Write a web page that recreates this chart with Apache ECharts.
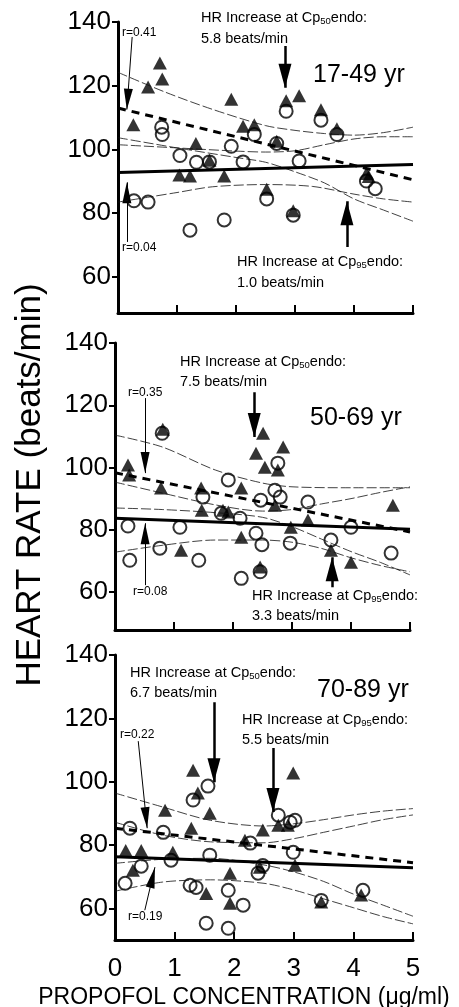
<!DOCTYPE html>
<html>
<head>
<meta charset="utf-8">
<title>Heart rate vs propofol concentration</title>
<script src="https://cdn.jsdelivr.net/npm/echarts@6/dist/echarts.min.js"></script>
<style>
html, body { margin: 0; padding: 0; background: #fff; }
#chart { width: 459px; height: 1007px; }
</style>
</head>
<body>
<div id="chart"></div>
<script>
// ---- values (x = propofol ug/ml, y = heart rate) ----
var xTicks = [0, 1, 2, 3, 4, 5];
var yTicks = [60, 80, 100, 120, 140];
var ageGroups = ['17-49 yr', '50-69 yr', '70-89 yr'];

// 17-49 yr
var triYoung = [[0.26,107.8],[0.51,119.6],[0.71,127.1],[0.75,122.1],[1.04,92.0],[1.22,91.7],[1.32,101.9],[1.55,96.6],[1.80,91.7],[1.92,115.8],[2.12,107.3],[2.31,107.8],[2.52,87.5],[2.69,102.6],[2.85,115.3],[3.07,116.9],[3.44,112.5],[3.71,106.5],[4.21,92.5],[4.25,91.5],[2.97,80.8]];
var circYoung = [[0.27,83.9],[0.51,83.5],[0.74,107.0],[0.75,104.7],[1.05,98.1],[1.22,74.7],[1.33,96.0],[1.55,96.1],[1.80,77.9],[1.92,101.0],[2.12,96.1],[2.31,104.7],[2.52,84.5],[2.69,101.9],[2.85,112.0],[2.97,79.4],[3.07,96.4],[3.44,109.2],[3.71,104.7],[4.21,90.1],[4.36,87.7]];
var fitTriYoung = [[0, 113], [5, 90.5]];
var fitCircYoung = [[0, 92.8], [5, 95.3]];
var bandsYoung = [
  [[0,124.2],[0.8,118],[1.6,112.6],[2.5,107.5],[3,106],[3.5,105],[4,104.5],[4.5,105.3],[5,107]],
  [[0,103.7],[1,100.5],[2,97.5],[2.5,96],[3,93],[3.5,89.5],[4,84.5],[4.5,81],[5,77.5]],
  [[0,101.5],[1,100.5],[2,99.5],[2.5,99.2],[3,99.6],[3.5,101.5],[4,103.3],[4.5,104],[5,104]],
  [[0,83.5],[0.5,85],[1,86.5],[1.6,88.3],[2.5,89],[3.3,88.4],[4,86],[4.5,84.5],[5,83.5]]
];
var bigArrowsYoung = [[2.83,132.5,2.83,119.4],[3.88,69.4,3.88,83.8]];
var thinArrowsYoung = [[0.24,135.3,0.15,112.5],[0.15,71,0.15,89.7]];

// 50-69 yr
var triMid = [[0.22,100.8],[0.24,97.6],[0.81,112.3],[0.78,93.4],[1.12,73.4],[1.46,93.4],[1.47,86.3],[1.83,86.3],[1.92,85.7],[2.14,93.4],[2.14,77.6],[2.39,104.6],[2.51,111.0],[2.54,100.1],[2.46,68.0],[2.71,87.9],[2.76,99.2],[2.85,106.6],[2.98,80.8],[3.27,83.1],[3.66,73.4],[4.00,69.6],[4.71,87.9]];
var circMid = [[0.22,81.2],[0.25,70.2],[0.80,111.0],[0.76,74.1],[1.10,80.8],[1.42,70.2],[1.49,90.5],[1.80,85.3],[1.92,96.0],[2.12,83.7],[2.14,64.4],[2.39,78.9],[2.47,89.5],[2.49,75.2],[2.46,66.5],[2.71,92.7],[2.76,101.4],[2.80,90.5],[2.97,75.7],[3.27,88.9],[3.66,76.7],[4.00,80.8],[4.68,72.5]];
var fitTriMid = [[0, 98.3], [5, 79.3]];
var fitCircMid = [[0, 83.7], [5, 80.2]];
var bandsMid = [
  [[0,110.4],[0.8,106.6],[1.7,99.2],[2.5,95],[3,93.8],[4,93.5],[5,93.5]],
  [[0,87],[0.8,86.5],[1.7,85.5],[2.5,84],[3,81],[3.5,77],[4,73],[4.5,69.5],[5,65.5]],
  [[0,95.3],[0.8,91.8],[1.7,88],[2.5,86],[3,86.5],[3.5,88.3],[4,90],[4.5,92],[5,93.8]],
  [[0,72.8],[0.8,75],[1.7,76.7],[2.5,76.7],[3,76],[3.5,74],[4,71],[4.5,68.5],[5,66.5]]
];
var bigArrowsMid = [[2.36,124.2,2.36,109.8],[3.68,61.5,3.68,71.2]];
var thinArrowsMid = [[0.51,122.3,0.51,98.2],[0.51,62.2,0.51,82.1]];

// 70-89 yr
var triOld = [[0.18,78.3],[0.30,72.0],[0.44,78.3],[0.84,91.0],[0.97,77.7],[1.28,85.3],[1.31,103.6],[1.39,96.4],[1.53,64.7],[1.59,90.0],[1.93,71.1],[1.93,61.6],[2.18,81.5],[2.43,73.0],[2.48,84.7],[2.74,86.2],[2.90,86.2],[2.99,102.7],[3.02,73.6],[3.46,62.0],[4.13,64.2]];
var circOld = [[0.17,67.9],[0.25,85.3],[0.44,73.3],[0.81,84.0],[0.94,75.2],[1.26,67.3],[1.31,94.2],[1.36,66.6],[1.53,55.3],[1.56,98.6],[1.59,76.8],[1.90,65.7],[1.90,53.7],[2.15,61.0],[2.27,80.6],[2.40,71.1],[2.48,73.5],[2.74,89.4],[2.94,87.2],[3.02,87.8],[2.99,77.7],[3.46,62.5],[4.16,65.7]];
var fitTriOld = [[0, 85.3], [5, 74.4]];
var fitCircOld = [[0, 76.3], [5, 72.8]];
var bandsOld = [
  [[0,96.4],[0.8,92],[1.6,87.8],[2.5,86],[3,86.7],[3.5,88],[4,89.5],[4.5,90.7],[5,91.5]],
  [[0,74.2],[0.8,75.5],[1.6,75.8],[2.5,73.7],[3,71.5],[3.5,68.5],[4,64.5],[4.5,61],[5,57.5]],
  [[0,87.2],[0.8,83.1],[1.6,81],[2.5,80.7],[3,82],[3.5,84],[4,86],[4.5,88],[5,89.5]],
  [[0,65.4],[0.8,68.3],[1.6,69],[2.5,67.9],[3,65.8],[3.5,63],[4,60.2],[4.5,57.4],[5,55.1]]
];
var bigArrowsOld = [[1.66,125.1,1.66,99.8],[2.65,110.6,2.65,90.4]];
var thinArrowsOld = [[0.39,112.8,0.54,85.3],[0.50,59.4,0.67,73]];

var FONT = '"Liberation Sans", Arial, Helvetica, sans-serif';

var panels = [
  { tri: triYoung, circ: circYoung, fitTri: fitTriYoung, fitCirc: fitCircYoung, bands: bandsYoung, big: bigArrowsYoung, thin: thinArrowsYoung, yMin: 48.7 },
  { tri: triMid, circ: circMid, fitTri: fitTriMid, fitCirc: fitCircMid, bands: bandsMid, big: bigArrowsMid, thin: thinArrowsMid, yMin: 47.8 },
  { tri: triOld, circ: circOld, fitTri: fitTriOld, fitCirc: fitCircOld, bands: bandsOld, big: bigArrowsOld, thin: thinArrowsOld, yMin: 50 }
];

var grids = [
  { left: 118, top: 22, width: 295, height: 291 },
  { left: 115, top: 343, width: 295, height: 287 },
  { left: 115, top: 655, width: 298, height: 285 }
];

// arrow heads: tip sits at the centre of a square box so it lands on the end point
var bigHead = 'path://M0,0L0,0M48,48L48,48M24,24L30.5,48L17.5,48Z';
var thinHead = 'path://M0,0L0,0M42,42L42,42M21,21L25.5,42L16.5,42Z';

var xAxes = [], yAxes = [], series = [];

panels.forEach(function (p, i) {
  xAxes.push({
    gridIndex: i, type: 'value', min: xTicks[0], max: xTicks[xTicks.length - 1], interval: 1,
    axisLine: { lineStyle: { color: '#000', width: 3 } },
    axisTick: { inside: true, length: 8, lineStyle: { color: '#000', width: 2 } },
    axisLabel: { show: i === 2, margin: 16, color: '#000', fontSize: 26, fontFamily: FONT },
    splitLine: { show: false }
  });
  yAxes.push({
    gridIndex: i, type: 'value', min: p.yMin, max: 140,
    axisLine: { show: true, lineStyle: { color: '#000', width: 3 } },
    axisTick: { show: true, length: 6, customValues: yTicks, lineStyle: { color: '#000', width: 2 } },
    axisLabel: { customValues: yTicks, margin: 7, color: '#000', fontSize: 26, fontFamily: FONT },
    splitLine: { show: false }
  });

  p.bands.forEach(function (b) {
    series.push({
      type: 'line', xAxisIndex: i, yAxisIndex: i, data: b, symbol: 'none', smooth: 0.3,
      lineStyle: { color: '#111', width: 0.8, type: [10, 3] }, silent: true
    });
  });
  series.push({
    type: 'line', xAxisIndex: i, yAxisIndex: i, data: p.fitCirc, symbol: 'none',
    lineStyle: { color: '#000', width: 3 }, silent: true
  });
  series.push({
    type: 'line', xAxisIndex: i, yAxisIndex: i, data: p.fitTri, symbol: 'none',
    lineStyle: { color: '#000', width: 3, type: [8, 6] }, silent: true
  });
  series.push({
    type: 'scatter', xAxisIndex: i, yAxisIndex: i, data: p.circ, symbol: 'circle', symbolSize: 13,
    itemStyle: { color: 'rgba(255,255,255,0)', borderColor: '#000', borderWidth: 2 }
  });
  series.push({
    type: 'scatter', xAxisIndex: i, yAxisIndex: i, data: p.tri, symbol: 'triangle', symbolSize: [14, 13],
    itemStyle: { color: '#000' }
  });
  series.push({
    type: 'lines', coordinateSystem: 'cartesian2d', xAxisIndex: i, yAxisIndex: i,
    symbol: ['none', bigHead], symbolSize: 48, silent: true,
    lineStyle: { color: '#000', width: 2.5, opacity: 1, curveness: 0 },
    data: p.big.map(function (a) { return { coords: [[a[0], a[1]], [a[2], a[3]]] }; })
  });
  series.push({
    type: 'lines', coordinateSystem: 'cartesian2d', xAxisIndex: i, yAxisIndex: i,
    symbol: ['none', thinHead], symbolSize: 42, silent: true,
    lineStyle: { color: '#000', width: 1, opacity: 1, curveness: 0 },
    data: p.thin.map(function (a) { return { coords: [[a[0], a[1]], [a[2], a[3]]] }; })
  });
});

function txt(x, y, text, size, align) {
  return {
    type: 'text', x: x, y: y, silent: true,
    style: {
      text: text, font: size + 'px ' + FONT, fill: '#000',
      align: align || 'left', verticalAlign: 'middle',
      textAlign: align || 'left', textVerticalAlign: 'middle'
    }
  };
}
function hrLabel(x, y, sub) {
  var t = txt(x, y, '{m|HR Increase at Cp}{s|' + sub + '}{m|endo:}', 14.5);
  t.style.rich = {
    m: { fontSize: 14.5, fontFamily: FONT, fill: '#000', lineHeight: 16 },
    s: { fontSize: 9.5, fontFamily: FONT, fill: '#000', lineHeight: 16, verticalAlign: 'bottom' }
  };
  return t;
}

var graphics = [
  // 17-49 yr
  hrLabel(201, 18, '50'), txt(201, 39, '5.8 beats/min', 14.5),
  txt(313, 75, ageGroups[0], 25),
  txt(122, 33, 'r=0.41', 12), txt(122, 248, 'r=0.04', 12),
  hrLabel(237, 262, '95'), txt(237, 283, '1.0 beats/min', 14.5),
  // 50-69 yr
  hrLabel(180, 362, '50'), txt(180, 382, '7.5 beats/min', 14.5),
  txt(310, 418, ageGroups[1], 25),
  txt(128, 393, 'r=0.35', 12), txt(133, 592, 'r=0.08', 12),
  hrLabel(252, 596, '95'), txt(252, 616, '3.3 beats/min', 14.5),
  // 70-89 yr
  hrLabel(130, 673, '50'), txt(130, 693, '6.7 beats/min', 14.5),
  txt(317, 690, ageGroups[2], 25),
  hrLabel(242, 720, '95'), txt(242, 740, '5.5 beats/min', 14.5),
  txt(120, 735, 'r=0.22', 12), txt(128, 917, 'r=0.19', 12),
  // axis titles
  txt(244, 998, 'PROPOFOL CONCENTRATION (\u03bcg/ml)', 23, 'center')
];
var yTitle = txt(30, 485, 'HEART RATE (beats/min)', 35, 'center');
yTitle.rotation = Math.PI / 2;
graphics.push(yTitle);

var chart = echarts.init(document.getElementById('chart'), null, { renderer: 'canvas' });
chart.setOption({
  animation: false,
  backgroundColor: '#fff',
  grid: grids,
  xAxis: xAxes,
  yAxis: yAxes,
  series: series,
  graphic: { elements: graphics }
});
</script>
</body>
</html>
